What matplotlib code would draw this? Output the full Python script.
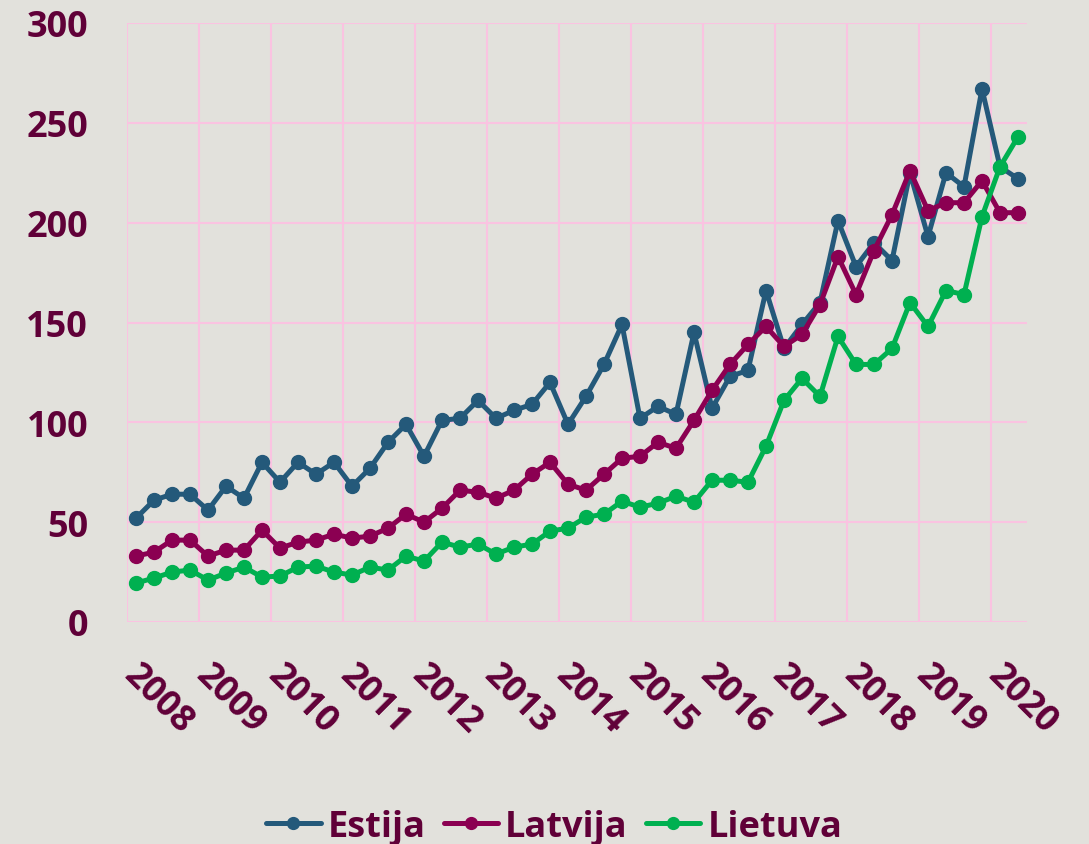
import matplotlib

matplotlib.use("Agg")
import matplotlib.pyplot as plt
import matplotlib.transforms as mtransforms
import numpy as np

# * Dados trimestrais 2008 Q1 - 2020 Q2
anos = ["2008", "2009", "2010", "2011", "2012", "2013", "2014",
        "2015", "2016", "2017", "2018", "2019", "2020"]

estija = [52, 61, 64, 64, 56, 68, 62, 80, 70, 80,
          74, 80, 68, 77, 90, 99, 83, 101, 102, 111,
          102, 106, 109, 120, 99, 113, 129, 149, 102, 108,
          104, 145, 107, 123, 126, 166, 137, 149, 160, 201,
          178, 190, 181, 225, 193, 225, 218, 267, 228, 222]

latvija = [33, 35, 41, 41, 33, 36, 36, 46, 37, 40,
           41, 44, 42, 43, 47, 54, 50, 57, 66, 65,
           62, 66, 74, 80, 69, 66, 74, 82, 83, 90,
           87, 101, 116, 129, 139, 148, 138, 144, 159, 183,
           164, 186, 204, 226, 206, 210, 210, 221, 205, 205]

lietuva = [19.5, 22, 25, 26, 21, 24.5, 27.5, 22.5, 23, 27.5,
           28, 25, 23.5, 27.5, 26, 33, 30.5, 40, 37.5, 39,
           34, 37.5, 39, 45.5, 47, 52.5, 54, 60.5, 57.5, 59.5,
           63, 60, 71, 71, 70, 88, 111, 122, 113, 143,
           129, 129, 137, 160, 148, 166, 164, 203, 228, 243]

# * Estilo
fundo = "#E2E1DC"
grade = "#FAC3E1"
texto = "#600038"
plt.rcParams["font.family"] = ["Open Sans", "DejaVu Sans"]
plt.rcParams["font.weight"] = "bold"

fig = plt.figure(figsize=(10.89, 8.45), dpi=100, facecolor=fundo)
ax = fig.add_axes([127 / 1089, 222 / 845, 900 / 1089, 599 / 845])
ax.set_facecolor(fundo)

x = np.arange(len(estija))
series = [
    ("Estija", estija, "#24597A"),
    ("Latvija", latvija, "#8B0052"),
    ("Lietuva", lietuva, "#00B050"),
]
for nome, valores, cor in series:
    ax.plot(x, valores, color=cor, linewidth=3.6, marker="o",
            markersize=10, label=nome, solid_capstyle="round")

# . Eixos e grade
ax.set_xlim(-0.5, len(estija) - 0.5)
ax.set_ylim(0, 300)
ax.set_yticks(range(0, 301, 50))
ax.set_xticks(np.arange(-0.5, len(estija) - 1, 4))
ax.set_xticklabels(anos)
ax.grid(True, color=grade, linewidth=1.5, zorder=0)
ax.set_axisbelow(True)
for s in ax.spines.values():
    s.set_visible(False)
ax.tick_params(axis="both", length=0, labelsize=26, labelcolor=texto)
ax.tick_params(axis="y", pad=28)
ax.tick_params(axis="x", pad=25)
desloc = mtransforms.ScaledTranslation(0.15, 0, fig.dpi_scale_trans)
for lbl in ax.get_xticklabels():
    lbl.set_rotation(-45)
    lbl.set_ha("left")
    lbl.set_va("top")
    lbl.set_rotation_mode("anchor")
    lbl.set_fontweight("bold")
    lbl.set_transform(lbl.get_transform() + desloc)
plt.setp(ax.get_yticklabels(), fontweight="bold")

# . Legenda
leg = fig.legend(loc="center", bbox_to_anchor=(0.509, 0.02), ncol=3,
                 frameon=False, fontsize=26, handlelength=1.5,
                 handletextpad=0.2, columnspacing=0.5, markerscale=0.85)
for t in leg.get_texts():
    t.set_color(texto)
    t.set_fontweight("bold")

fig.savefig("out.png", dpi=100, facecolor=fundo)
